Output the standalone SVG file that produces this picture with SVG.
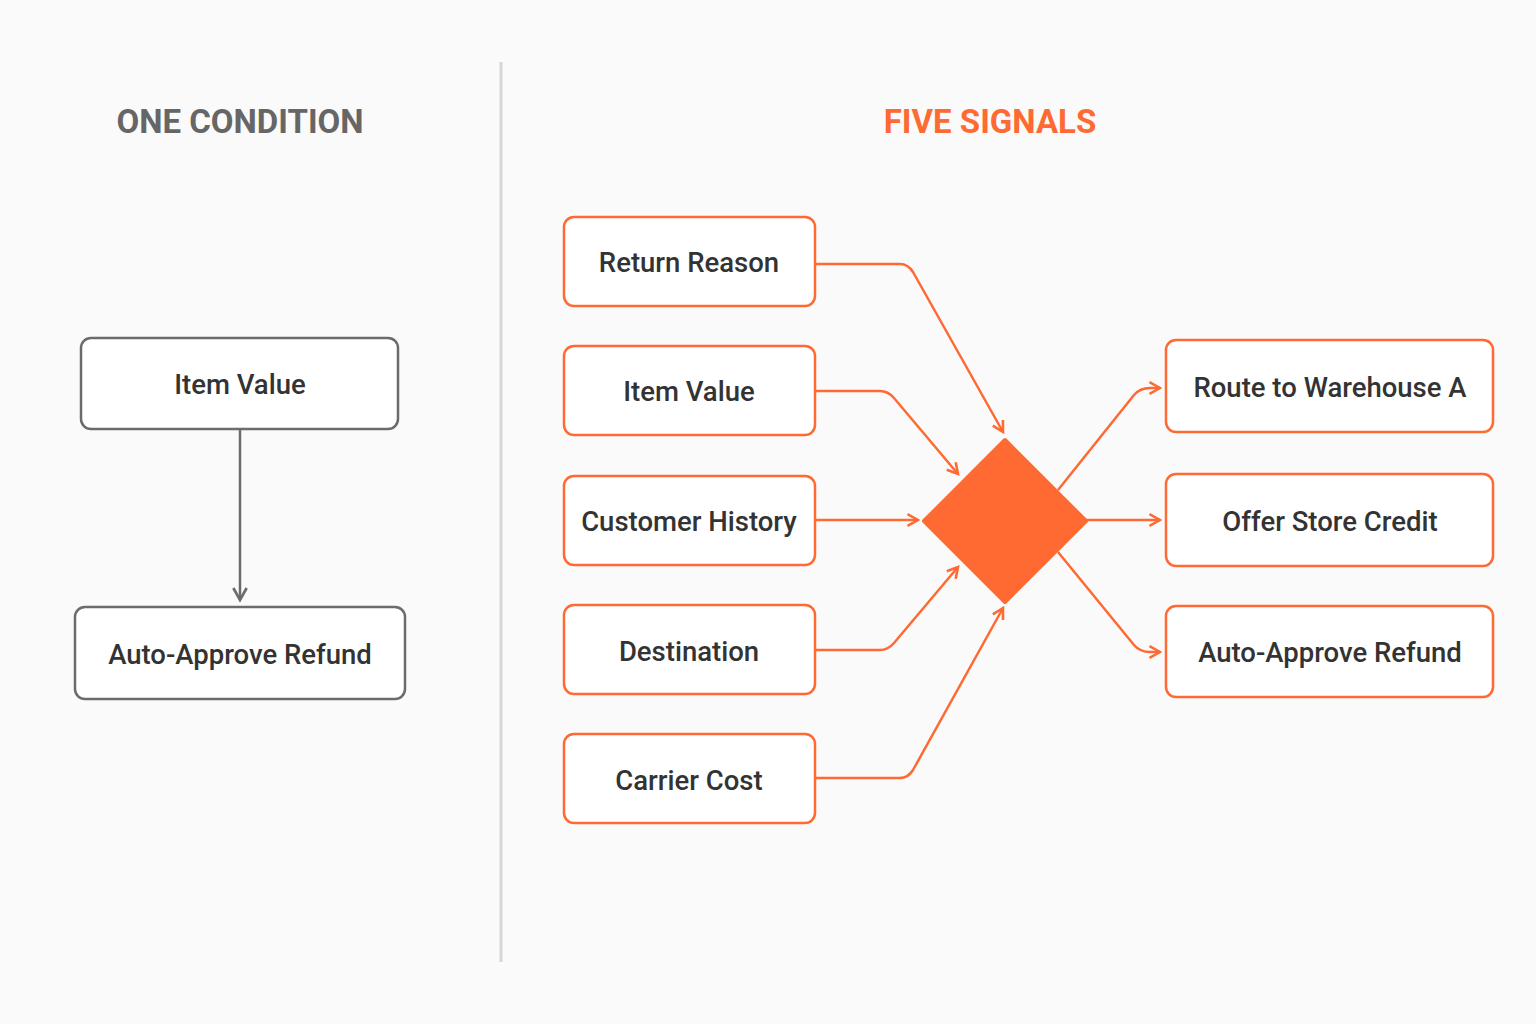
<svg xmlns="http://www.w3.org/2000/svg" width="1536" height="1024" viewBox="0 0 1536 1024">
<defs>
<style>
.g{fill:#fff;stroke:#6b6b6b;stroke-width:2.5}
.o{fill:#fff;stroke:#ff6a33;stroke-width:2.5}
.t{font-family:Roboto,"Liberation Sans",sans-serif;font-size:27.5px;font-weight:500;fill:#333;text-anchor:middle;dominant-baseline:central}
.h{font-family:Roboto,"Liberation Sans",sans-serif;font-size:33px;font-weight:bold;text-anchor:middle}
.c{fill:none;stroke:#ff6a33;stroke-width:2.5;stroke-linejoin:round}
.cg{fill:none;stroke:#6b6b6b;stroke-width:2.5}
</style>
<marker id="ao" viewBox="0 0 12 12" refX="10" refY="6" markerWidth="14" markerHeight="14" markerUnits="userSpaceOnUse" orient="auto"><path d="M1,1 L10,6 L1,11" fill="none" stroke="#ff6a33" stroke-width="2.2"/></marker>
<marker id="ag" viewBox="0 0 12 12" refX="10" refY="6" markerWidth="16" markerHeight="16" markerUnits="userSpaceOnUse" orient="auto"><path d="M1,1 L10,6 L1,11" fill="none" stroke="#6b6b6b" stroke-width="2"/></marker>
</defs>
<rect width="1536" height="1024" fill="#fafafa"/>
<line x1="501" y1="62" x2="501" y2="962" stroke="#d6d6d6" stroke-width="3"/>
<text class="h" x="240" y="133" fill="#666">ONE CONDITION</text>
<text class="h" x="990" y="133" fill="#ff6a33">FIVE SIGNALS</text>
<g id="connectors">
<path class="cg" d="M240,430 V600" marker-end="url(#ag)"/>
<path class="c" d="M815,264 H900 Q908,264 913,272 L1003,432" marker-end="url(#ao)"/>
<path class="c" d="M815,391 H880 Q888,391 894,398 L958,474" marker-end="url(#ao)"/>
<path class="c" d="M815,520 H918" marker-end="url(#ao)"/>
<path class="c" d="M815,650 H880 Q888,650 894,643 L958,567" marker-end="url(#ao)"/>
<path class="c" d="M815,778 H900 Q908,778 913,770 L1003,608" marker-end="url(#ao)"/>
<path class="c" d="M1058,490 L1134,395 Q1140,388 1150,388 L1160,388" marker-end="url(#ao)"/>
<path class="c" d="M1086,520 H1160" marker-end="url(#ao)"/>
<path class="c" d="M1058,552 L1134,645 Q1140,652 1150,652 L1160,652" marker-end="url(#ao)"/>
</g>
<g id="decision"><path d="M1005,440 L1086,521 L1005,602 L924,521 Z" fill="#ff6a33" stroke="#ff6a33" stroke-width="4" stroke-linejoin="round"/></g>
<g id="l-item"><rect class="g" x="81" y="338" width="317" height="91" rx="10"/><text class="t" x="240" y="384">Item Value</text></g>
<g id="l-auto"><rect class="g" x="75" y="607" width="330" height="92" rx="10"/><text class="t" x="240" y="654">Auto-Approve Refund</text></g>
<g id="return"><rect class="o" x="564" y="217" width="251" height="89" rx="10"/><text class="t" x="689" y="262">Return Reason</text></g>
<g id="item"><rect class="o" x="564" y="346" width="251" height="89" rx="10"/><text class="t" x="689" y="391">Item Value</text></g>
<g id="history"><rect class="o" x="564" y="476" width="251" height="89" rx="10"/><text class="t" x="689" y="521">Customer History</text></g>
<g id="dest"><rect class="o" x="564" y="605" width="251" height="89" rx="10"/><text class="t" x="689" y="651">Destination</text></g>
<g id="carrier"><rect class="o" x="564" y="734" width="251" height="89" rx="10"/><text class="t" x="689" y="780">Carrier Cost</text></g>
<g id="route"><rect class="o" x="1166" y="340" width="327" height="92" rx="10"/><text class="t" x="1330" y="387">Route to Warehouse A</text></g>
<g id="credit"><rect class="o" x="1166" y="474" width="327" height="92" rx="10"/><text class="t" x="1330" y="521">Offer Store Credit</text></g>
<g id="refund"><rect class="o" x="1166" y="606" width="327" height="91" rx="10"/><text class="t" x="1330" y="652">Auto-Approve Refund</text></g>
</svg>
